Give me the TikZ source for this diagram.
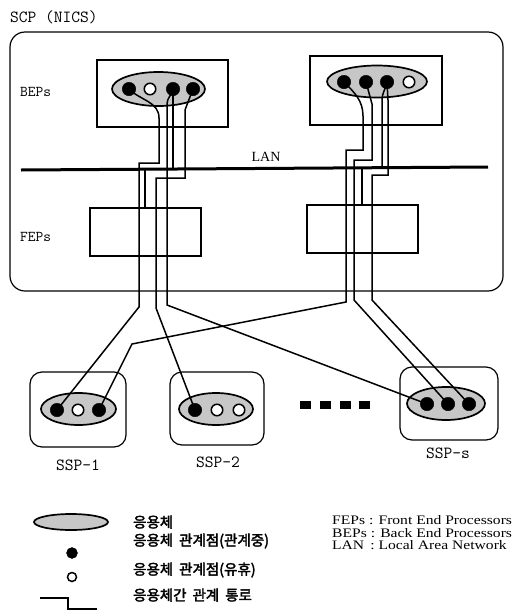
\documentclass[tikz,border=0pt]{standalone}
\usepackage{fontspec}
\setmainfont{Liberation Serif}
\newfontfamily\widefont[FakeStretch=1.2]{Liberation Serif}
\newfontfamily\krfont[FakeBold=2.5]{Noto Sans CJK KR}
\usetikzlibrary{shapes.geometric}
\begin{document}
\begin{tikzpicture}[x=1pt,y=-1pt,
  box/.style={draw, line width=1.2pt, inner sep=0pt},
  app/.style={draw, ellipse, line width=1.7pt, fill=black!22, inner sep=0pt},
  bdot/.style={circle, fill=black, draw=black, minimum size=13.5pt, inner sep=0pt},
  wdot/.style={circle, fill=white, draw=black, line width=1.5pt, minimum size=11.5pt, inner sep=0pt},
  link/.style={line width=1.5pt},
  ttl/.style={font=\fontsize{17}{17}\selectfont\ttfamily, inner sep=0pt},
  tts/.style={font=\fontsize{15}{15}\selectfont\ttfamily, inner sep=0pt, anchor=west},
  kr/.style={font=\fontsize{14.5}{14.5}\selectfont\krfont, inner sep=0pt, anchor=west},
  lg/.style={font=\fontsize{13}{13}\selectfont\widefont, inner sep=0pt, anchor=west},
  sq/.style={fill=black, minimum width=11pt, minimum height=8pt, inner sep=0pt}
]
\useasboundingbox (0,0) rectangle (519,611);

% titles
\node[ttl, anchor=west] (scp) at (10,17) {SCP (NICS)};
\node[box, rounded corners=15pt, minimum width=493pt, minimum height=259pt] (scpbox) at (256.5,161.5) {};
\node[tts] (beps) at (20,92) {BEPs};
\node[tts] (feps) at (20,237) {FEPs};

% boxes
\node[box, minimum width=131pt, minimum height=67pt] (bepL) at (162.5,93.5) {};
\node[box, minimum width=132pt, minimum height=69pt] (bepR) at (376,90.5) {};
\node[box, minimum width=111pt, minimum height=48pt] (fepL) at (145.5,232) {};
\node[box, minimum width=111pt, minimum height=48pt] (fepR) at (362.5,229) {};
\node[box, rounded corners=12pt, minimum width=96pt, minimum height=75pt] (ssp1) at (78,409.5) {};
\node[box, rounded corners=12pt, minimum width=94pt, minimum height=73pt] (ssp2) at (217,408.5) {};
\node[box, rounded corners=12pt, minimum width=98pt, minimum height=73pt] (ssps) at (449,403.5) {};

% LAN
\coordinate (lanA) at (21,170);
\coordinate (lanB) at (488,167);
\draw[line width=3pt] (lanA) -- (lanB);
\node[font=\fontsize{14}{14}\selectfont, inner sep=0pt] (lan) at (266,157) {LAN};

% applications
\node[app, minimum width=93pt, minimum height=34pt] (eL) at (158.5,89) {};
\node[app, minimum width=100pt, minimum height=32pt] (eR) at (377,81.5) {};
\node[app, minimum width=75pt, minimum height=32pt] (e1) at (78.5,409) {};
\node[app, minimum width=74pt, minimum height=32pt] (e2) at (216,409) {};
\node[app, minimum width=78pt, minimum height=33pt] (es) at (446,403.5) {};

% dot positions
\coordinate (bl1) at (129,89); \coordinate (bl2) at (150,89);
\coordinate (bl3) at (173,89); \coordinate (bl4) at (193,89);
\coordinate (br1) at (344,82); \coordinate (br2) at (366,82);
\coordinate (br3) at (387,82); \coordinate (br4) at (409,82);
\coordinate (sa1) at (57,410); \coordinate (sa2) at (78,410); \coordinate (sa3) at (99,410);
\coordinate (sb1) at (195,410); \coordinate (sb2) at (217,410); \coordinate (sb3) at (239,410);
\coordinate (sc1) at (427,404); \coordinate (sc2) at (448,404); \coordinate (sc3) at (469,404);

% links, left side
\draw[link] (bl1) to[out=-45,in=90] (159,118) -- (159,163) -- (139,163) -- (139,307) -- (sa1);
\draw[link] (bl3) -- (173,169);
\draw[link] (bl3) to[out=-100,in=90] (167,104) -- (167,305) -- (sc1);
\draw[link] (bl4) -- (185,110) -- (185,178) -- (156,178) -- (156,308) -- (sb1);
\draw[link] (145,169) -- (fepL.north -| 145,0);
% links, right side
\draw[link] (br1) to[out=-45,in=90] (363,116) -- (363,150) -- (346,150) -- (346,302) -- (132,344) -- (sa3);
\draw[link] (br2) -- (372,104) -- (372,160) -- (354,160) -- (354,300) -- (sc2);
\draw[link] (br3) to[out=-100,in=90] (382,100) -- (382,168);
\draw[link] (br3) -- (388,100) -- (388,175) -- (372,175) -- (372,300) -- (sc3);
\draw[link] (362,168) -- (fepR.north -| 362,0);

% dots
\node[bdot] (dl1) at (bl1) {}; \node[wdot] (dl2) at (bl2) {};
\node[bdot] (dl3) at (bl3) {}; \node[bdot] (dl4) at (bl4) {};
\node[bdot] (dr1) at (br1) {}; \node[bdot] (dr2) at (br2) {};
\node[bdot] (dr3) at (br3) {}; \node[wdot] (dr4) at (br4) {};
\node[bdot] (da1) at (sa1) {}; \node[wdot] (da2) at (sa2) {}; \node[bdot] (da3) at (sa3) {};
\node[bdot] (db1) at (sb1) {}; \node[wdot] (db2) at (sb2) {}; \node[wdot] (db3) at (sb3) {};
\node[bdot] (dc1) at (sc1) {}; \node[bdot] (dc2) at (sc2) {}; \node[bdot] (dc3) at (sc3) {};

% ellipsis squares
\node[sq] (q1) at (305,405) {};
\node[sq] (q2) at (325,405) {};
\node[sq] (q3) at (345,405) {};
\node[sq] (q4) at (364,405) {};

% SSP labels
\node[ttl] (l1) at (78,465) {SSP-1};
\node[ttl] (l2) at (218,462) {SSP-2};
\node[ttl] (l3) at (448,453) {SSP-s};

% legend
\node[app, minimum width=74pt, minimum height=16pt] (lgE) at (71,522) {};
\node[bdot, minimum size=11pt] (lgB) at (72,553) {};
\node[wdot, minimum size=9pt] (lgW) at (72,577) {};
\coordinate (lgP1) at (40,598);
\coordinate (lgP2) at (97,609);
\draw[line width=1.2pt] (lgP1) -- (68,598) -- (68,609) -- (lgP2);
\node[kr] (k1) at (133,522) {응용체};
\node[kr] (k2) at (133,541) {응용체\hspace{6pt}관계점(관계중)};
\node[kr] (k3) at (133,570) {응용체\hspace{6pt}관계점(유휴)};
\node[kr] (k4) at (133,595) {응용체간\hspace{6pt}관계\hspace{6pt}통로};
\node[lg] (r1) at (332,520) {FEPs : Front End Processors};
\node[lg] (r2) at (332,533) {BEPs : Back End Processors};
\node[lg] (r3) at (332,545.5) {LAN \,: Local Area Network};
\end{tikzpicture}
\end{document}
